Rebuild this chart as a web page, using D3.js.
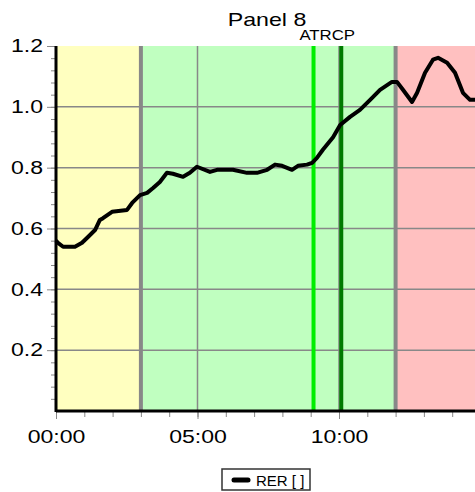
<!DOCTYPE html>
<html>
<head>
<meta charset="utf-8">
<script src="https://cdn.jsdelivr.net/npm/d3@7"></script>
<style>
  body { margin: 0; background: #fff; }
  svg { display: block; font-family: "Liberation Sans", Arial, sans-serif; }
</style>
</head>
<body>
<div id="chart"></div>
<script>
// RER trace, time in minutes
var rerTime = [0, 0.07, 0.25, 0.67, 0.92, 1.13, 1.38, 1.55, 1.66, 1.98, 2.51, 2.69, 2.97,
  3.22, 3.43, 3.67, 3.92, 4.13, 4.49, 4.73, 4.98, 5.44, 5.69, 6.25, 6.75, 7.10, 7.46,
  7.74, 7.99, 8.34, 8.55, 8.87, 9.05, 9.22, 9.43, 9.79, 10.04, 10.39, 10.74, 11.10,
  11.45, 11.87, 12.05, 12.26, 12.58, 12.76, 13.04, 13.32, 13.50, 13.82, 14.10, 14.38,
  14.63, 14.81];
var rerValue = [0.56, 0.553, 0.54, 0.54, 0.553, 0.572, 0.595, 0.628, 0.634, 0.655, 0.661, 0.684, 0.71,
  0.717, 0.733, 0.753, 0.783, 0.78, 0.77, 0.783, 0.803, 0.786, 0.793, 0.793, 0.783, 0.783, 0.793,
  0.81, 0.806, 0.793, 0.806, 0.81, 0.816, 0.832, 0.859, 0.90, 0.94, 0.967, 0.99, 1.023,
  1.056, 1.082, 1.082, 1.056, 1.016, 1.046, 1.112, 1.155, 1.161, 1.145, 1.112, 1.046,
  1.023, 1.023];

// phase zones (minutes)
var zoneStart = [0, 3, 12];
var zoneEnd = [3, 12, 15];
var zoneColor = ["#ffffc0", "#c0ffc0", "#ffc0c0"];
var phaseLines = [3, 12];

// threshold markers
var markerName = ["AT", "RCP"];
var markerTime = [9.1, 10.08];
var markerColor = ["#00ee00", "#007a00"];
var markerDx = [-4, -4];

var yTicks = [0.2, 0.4, 0.6, 0.8, 1.0, 1.2];
var xTicks = [0, 5, 10];
var xTickLabels = ["00:00", "05:00", "10:00"];

var W = 475, H = 492;
var plotLeft = 56, plotTop = 46, plotBottom = 411;
var stretchK = 1.28; // text in the original is drawn a bit wide

// widen text horizontally, keeping the anchor
function stretch(sel, k) {
  sel.each(function () {
    var w = this.getComputedTextLength();
    d3.select(this).attr("textLength", w * k).attr("lengthAdjust", "spacingAndGlyphs");
  });
}

var svg = d3.select("#chart").append("svg")
  .attr("width", W).attr("height", H);

var x = d3.scaleLinear().domain([0, 15]).range([plotLeft, plotLeft + 28.3 * 15]);
var y = d3.scaleLinear().domain([0, 1.2]).range([plotBottom, plotTop]);

// background zones
svg.selectAll("rect.zone")
  .data(zoneStart)
  .enter().append("rect")
  .attr("class", "zone")
  .attr("x", function (d) { return x(d); })
  .attr("width", function (d, i) { return x(zoneEnd[i]) - x(d); })
  .attr("y", plotTop)
  .attr("height", plotBottom - plotTop)
  .style("fill", function (d, i) { return zoneColor[i]; });

// grid
svg.selectAll("line.hgrid")
  .data(yTicks.slice(0, 5))
  .enter().append("line")
  .attr("x1", plotLeft).attr("x2", W)
  .attr("y1", function (d) { return y(d); })
  .attr("y2", function (d) { return y(d); })
  .style("stroke", "#888").style("stroke-width", 1.5);

svg.selectAll("line.vgrid")
  .data(xTicks.slice(1))
  .enter().append("line")
  .attr("y1", plotTop).attr("y2", plotBottom)
  .attr("x1", function (d) { return x(d); })
  .attr("x2", function (d) { return x(d); })
  .style("stroke", "#888").style("stroke-width", 1.5);

// phase boundaries
svg.selectAll("line.phase")
  .data(phaseLines)
  .enter().append("line")
  .attr("y1", plotTop).attr("y2", plotBottom)
  .attr("x1", function (d) { return x(d); })
  .attr("x2", function (d) { return x(d); })
  .style("stroke", "#888").style("stroke-width", 4);

// AT / RCP markers
svg.selectAll("line.marker")
  .data(markerTime)
  .enter().append("line")
  .attr("y1", plotTop).attr("y2", plotBottom)
  .attr("x1", function (d) { return x(d); })
  .attr("x2", function (d) { return x(d); })
  .style("stroke", function (d, i) { return markerColor[i]; })
  .style("stroke-width", 4);

var mLabels = svg.selectAll("text.marker")
  .data(markerTime)
  .enter().append("text")
  .attr("x", function (d, i) { return x(d) + markerDx[i]; })
  .attr("y", 40)
  .attr("text-anchor", "middle")
  .style("font-size", "15px")
  .text(function (d, i) { return markerName[i]; });
stretch(mLabels, 1.12);

// RER line
var pts = rerTime.map(function (t, i) { return [t, rerValue[i]]; });
svg.append("path")
  .datum(pts)
  .attr("d", d3.line()
    .x(function (d) { return x(d[0]); })
    .y(function (d) { return y(d[1]); }))
  .style("fill", "none")
  .style("stroke", "#000")
  .style("stroke-width", 4)
  .style("stroke-linejoin", "round");

// y axis
var yMinor = svg.append("g")
  .attr("transform", "translate(" + plotLeft + ",0)")
  .call(d3.axisLeft(y).tickValues(d3.range(0.04, 1.201, 0.04)).tickSize(5).tickFormat(""));
yMinor.selectAll("line").style("stroke", "#888");
yMinor.select(".domain").remove();

var yMajor = svg.append("g")
  .attr("transform", "translate(" + plotLeft + ",0)")
  .call(d3.axisLeft(y).tickValues(yTicks).tickSize(9).tickPadding(4).tickFormat(d3.format(".1f")));
yMajor.select(".domain").remove();
yMajor.selectAll("line").style("stroke", "#888");
yMajor.selectAll("text")
  .style("font-size", "18px")
  .style("font-family", "Liberation Sans, Arial, sans-serif")
  .style("fill", "#000");
stretch(yMajor.selectAll("text"), stretchK);

// x axis
var xMinor = svg.append("g")
  .attr("transform", "translate(0," + plotBottom + ")")
  .call(d3.axisBottom(x).tickValues(d3.range(1, 15, 1)).tickSize(6).tickFormat(""));
xMinor.selectAll("line").style("stroke", "#888");
xMinor.select(".domain").remove();

var xMajor = svg.append("g")
  .attr("transform", "translate(0," + plotBottom + ")")
  .call(d3.axisBottom(x).tickValues(xTicks).tickSize(8).tickPadding(11)
    .tickFormat(function (d, i) { return xTickLabels[i]; }));
xMajor.select(".domain").remove();
xMajor.selectAll("line").style("stroke", "#888");
xMajor.selectAll("text")
  .style("font-size", "18px")
  .style("font-family", "Liberation Sans, Arial, sans-serif")
  .style("fill", "#000");
stretch(xMajor.selectAll("text"), stretchK);

// axis lines
svg.append("line")
  .attr("x1", plotLeft).attr("x2", plotLeft).attr("y1", plotTop).attr("y2", plotBottom + 1)
  .style("stroke", "#000").style("stroke-width", 3);
svg.append("line")
  .attr("x1", plotLeft).attr("x2", W).attr("y1", plotBottom).attr("y2", plotBottom)
  .style("stroke", "#000").style("stroke-width", 3);

// title
var title = svg.append("text")
  .attr("x", 267).attr("y", 26)
  .attr("text-anchor", "middle")
  .style("font-size", "19px")
  .text("Panel 8");
stretch(title, 1.22);

// legend
var lg = svg.append("g").attr("transform", "translate(222,469)");
lg.append("rect")
  .attr("width", 88).attr("height", 21)
  .style("fill", "#fff").style("stroke", "#333").style("stroke-width", 1.5);
lg.append("line")
  .attr("x1", 12).attr("x2", 26).attr("y1", 11).attr("y2", 11)
  .style("stroke", "#000").style("stroke-width", 5).style("stroke-linecap", "round");
var lgText = lg.append("text")
  .attr("x", 34).attr("y", 16.5)
  .style("font-size", "15px")
  .text("RER [ ]");
stretch(lgText, 1.0);
</script>
</body>
</html>
